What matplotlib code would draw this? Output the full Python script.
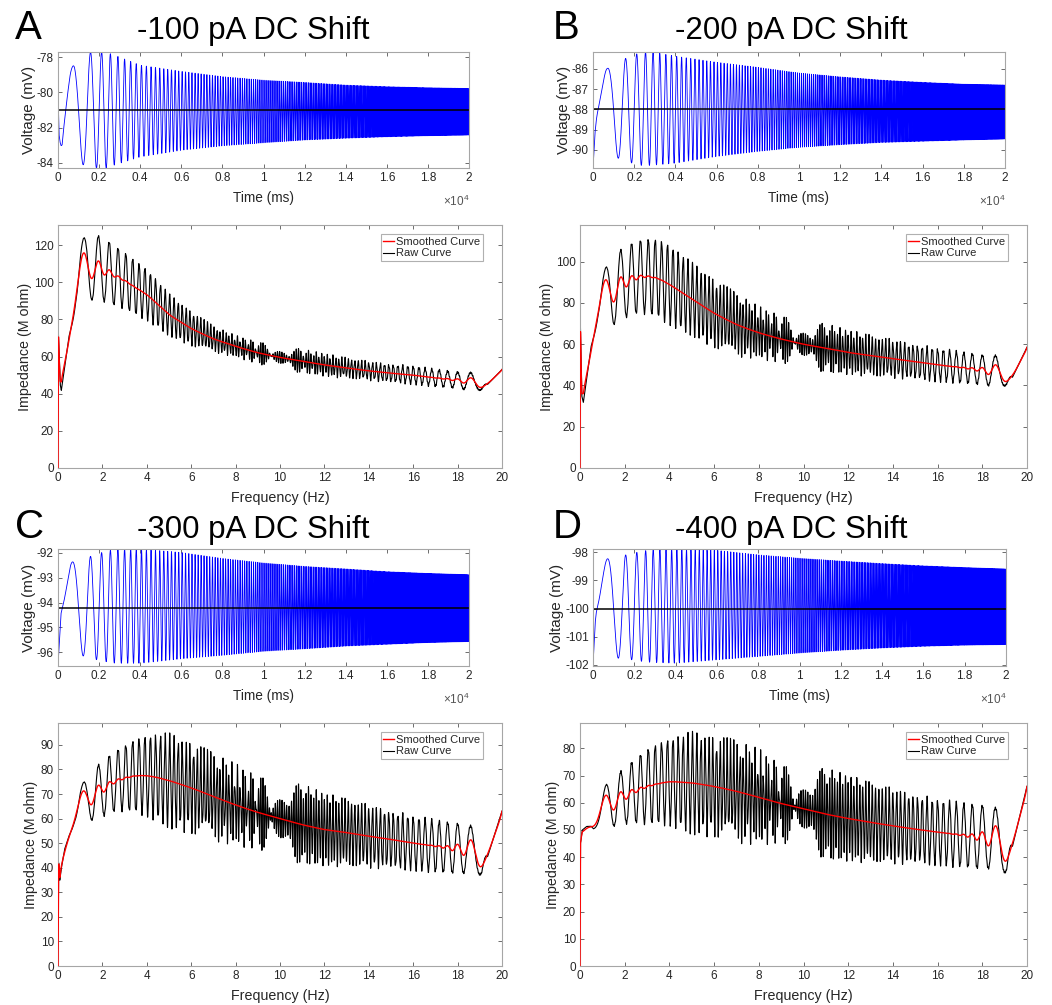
import numpy as np
import matplotlib
matplotlib.use('Agg')
import matplotlib.pyplot as plt

plt.rcParams['font.family'] = ['Liberation Sans', 'DejaVu Sans']
plt.rcParams['mathtext.fontset'] = 'custom'
plt.rcParams['mathtext.rm'] = 'Liberation Sans'
plt.rcParams['axes.unicode_minus'] = False

letters = ['A', 'B', 'C', 'D']
titles = ['-100 pA DC Shift', '-200 pA DC Shift', '-300 pA DC Shift', '-400 pA DC Shift']

# ---- voltage traces (ZAP response, 0 -> 20 Hz over 20 s) ----
vt = [0, 700, 1200, 1600, 1900, 2300, 2800, 4000, 6000, 8000, 10000, 12000, 14000, 16000, 18000, 20000]
v_base = [-81.0, -88.0, -94.21, -100.0]
v_upper = [
    [-78.4, -78.4, -78.0, -77.7, -77.7, -77.7, -77.9, -78.45, -78.8, -79.1, -79.3, -79.43, -79.58, -79.67, -79.73, -79.77],
    [-86.0, -85.98, -85.7, -85.48, -85.35, -85.2, -85.15, -85.38, -85.68, -85.93, -86.21, -86.4, -86.56, -86.67, -86.76, -86.8],
    [-92.4, -92.37, -92.25, -92.14, -92.05, -91.95, -91.85, -91.85, -91.99, -92.23, -92.41, -92.55, -92.65, -92.76, -92.83, -92.88],
    [-98.25, -98.23, -98.15, -98.09, -98.03, -97.98, -97.9, -97.88, -97.93, -98.09, -98.21, -98.31, -98.4, -98.48, -98.54, -98.59],
]
v_lower = [
    [-83.5, -83.8, -84.1, -84.2, -84.3, -84.3, -84.1, -83.66, -83.28, -83.03, -82.86, -82.7, -82.6, -82.52, -82.46, -82.42],
    [-90.2, -90.3, -90.41, -90.55, -90.66, -90.77, -90.77, -90.66, -90.33, -90.08, -89.88, -89.75, -89.64, -89.58, -89.52, -89.47],
    [-96.0, -96.05, -96.14, -96.25, -96.3, -96.37, -96.44, -96.44, -96.26, -96.12, -95.96, -95.86, -95.75, -95.68, -95.61, -95.57],
    [-101.7, -101.72, -101.76, -101.8, -101.82, -101.87, -101.91, -101.94, -101.82, -101.7, -101.58, -101.48, -101.4, -101.34, -101.3, -101.28],
]
# onset transient (mV relative to baseline)
tt = [0, 1, 50, 100, 150, 200, 300, 450, 600, 800]
v_trans = [
    [3.3, 1.0, -1.4, -1.9, -2.2, -2.3, -1.5, -0.8, -0.3, 0],
    [2.4, -2.9, -2.0, -1.2, -0.75, -0.5, -0.3, -0.1, 0, 0],
    [-2.34, -2.3, -1.6, -0.9, -0.35, -0.25, -0.2, -0.1, 0, 0],
    [-2.04, -2.0, -1.3, -0.6, -0.3, -0.2, -0.15, -0.05, 0, 0],
]
v_yticks = [[-84, -82, -80, -78], [-90, -89, -88, -87, -86],
            [-96, -95, -94, -93, -92], [-102, -101, -100, -99, -98]]

# ---- impedance profiles ----
z_trend_f = [
    [0, 0.02, 0.1, 0.15, 0.5, 0.8, 1.0, 1.3, 1.6, 2, 2.5, 3, 3.5, 4, 5, 6, 7, 8, 9, 10, 11, 12, 13, 14, 15, 16, 17, 18, 18.6, 19.1, 19.35, 20],
    [0, 0.02, 0.08, 0.15, 0.5, 0.8, 1.0, 1.3, 1.6, 2, 2.5, 3, 3.5, 4, 5, 6, 7, 8, 9, 10, 11, 12, 13, 14, 15, 16, 17, 18, 18.6, 19.1, 19.35, 20],
    [0, 0.03, 0.08, 0.15, 0.3, 0.5, 0.7, 1.0, 1.3, 1.6, 2, 2.5, 3, 3.5, 4, 4.5, 5, 6, 7, 8, 9, 10, 11, 12, 13, 14, 15, 16, 17, 18, 18.6, 19.1, 19.35, 20],
    [0, 0.02, 0.1, 0.3, 0.6, 0.9, 1.2, 1.5, 2, 2.5, 3, 3.5, 4, 5, 6, 7, 8, 9, 10, 11, 12, 13, 14, 15, 16, 17, 18, 18.6, 19.1, 19.35, 20],
]
z_trend = [
    [0, 72, 45, 42, 72, 95, 104, 110, 108, 107, 104, 101, 97, 93.5, 82.5, 75, 69.5, 65.5, 62, 59.5, 57.5, 55.5, 53.8, 52.3, 51, 50, 48.5, 47.3, 46.5, 46, 45, 53],
    [0, 68, 35, 32, 60, 77, 84, 86, 87, 90, 92.5, 93, 92, 89, 82, 75, 69.5, 65.5, 62.5, 60, 58, 56, 54.5, 53, 51.5, 50, 48.8, 47.5, 47, 45.5, 44, 58.5],
    [0, 42, 35, 40, 48, 54, 60, 67, 68, 70, 72, 75, 76.5, 77.5, 77.5, 76.7, 75.5, 72.5, 69, 65.5, 62.5, 60, 57.5, 55.5, 54.3, 52.8, 51.5, 50, 48.8, 47.8, 47.5, 46, 44.5, 63],
    [0, 45, 50, 51.5, 52, 56, 60, 60.5, 62.5, 64.5, 66, 67, 67.8, 67.3, 66, 64.2, 62, 59.7, 57.8, 55.8, 54.2, 52.8, 51.5, 50.3, 49.2, 48.2, 47.3, 47, 46, 44, 66],
]
env_f = [0, 0.5, 1, 1.5, 2, 3, 4, 5, 6, 7, 8, 9, 10, 11, 12, 14, 16, 18, 18.6, 19.1, 19.35, 20]
# ripple half-amplitude from the low edge and the high edge of the sweep
env_low = [
    [0, 1, 16, 18, 17, 15, 13.5, 10.5, 8.5, 6, 4.5, 3.5, 3, 2, 1.5, 1, 0.8, 0.5, 0.4, 0.3, 0, 0],
    [0, 1, 10, 17, 17, 18, 19, 16.5, 15, 13, 10, 7, 5, 3, 2, 1.5, 1, 0.5, 0.4, 0.3, 0, 0],
    [0, 1, 6, 10, 11, 13, 16, 17.5, 16, 14, 12, 8, 6, 3, 2, 1.5, 1, 0.5, 0.4, 0.3, 0, 0],
    [0, 0.5, 6, 9, 10, 13.5, 15.5, 17, 16, 15, 13, 8, 6, 3, 2, 1.5, 1, 0.5, 0.4, 0.3, 0, 0],
]
env_high = [
    [0, 0, 0, 0.3, 0.5, 0.7, 0.8, 1, 1, 1.2, 1.5, 2.5, 3.5, 4.5, 4.8, 4.3, 4.5, 4.2, 4.8, 4, 0, 0],
    [0, 0, 0, 0.3, 0.5, 0.7, 1, 1.5, 2, 2.5, 3, 4.5, 6, 9, 9, 8, 7.5, 7, 7.5, 5.5, 0, 0],
    [0, 0, 0, 0.3, 0.5, 0.7, 1, 2, 3, 4, 5, 7, 9, 13.5, 13, 11.5, 10.5, 10, 9.5, 9, 0, 0],
    [0, 0, 0, 0.3, 0.5, 0.7, 1, 2, 3, 4, 5, 6.5, 8, 14, 14, 12.5, 11.5, 11.5, 11, 12, 0, 0],
]
z_ylim = [130.8, 117.8, 98.9, 89.3]
z_yticks = [np.arange(0, 121, 20), np.arange(0, 101, 20), np.arange(0, 91, 10), np.arange(0, 81, 10)]

# axes boxes in pixels: left, right, top, bottom
W, H = 1052, 1005
v_box = [(58, 469, 52, 168), (593, 1005, 52, 168), (58, 469, 549, 666), (593, 1006, 549, 666)]
z_box = [(58, 502, 225, 468), (580, 1027, 225, 468), (58, 502, 723, 966), (580, 1027, 723, 966)]
label_xy = [(15, 39), (553, 39), (15, 538), (553, 538)]
title_xy = [(253, 39), (791, 39), (253, 538), (791, 538)]

spine_c = '#a6a6a6'
text_c = '#262626'


def make_ax(fig, box):
    l, r, t, b = box
    ax = fig.add_axes([l / W, 1 - b / H, (r - l) / W, (b - t) / H])
    for s in ax.spines.values():
        s.set_color(spine_c)
        s.set_linewidth(0.8)
    ax.tick_params(direction='in', top=True, right=True, length=3, width=0.6,
                   color='#555555', labelcolor=text_c, labelsize=8.5, pad=3)
    return ax


def smooth(y, df, sigma):
    # gaussian smoothing; falls back to the raw values right at the ends
    x = np.arange(-int(3 * sigma / df), int(3 * sigma / df) + 1) * df
    g = np.exp(-0.5 * (x / sigma) ** 2)
    num = np.convolve(y, g, mode='same')
    den = np.convolve(np.ones_like(y), g, mode='same')
    s = num / den
    i = np.arange(len(y))
    d = np.minimum(i, len(y) - 1 - i) * df
    w = np.clip(d / (2 * sigma), 0, 1)
    return w * s + (1 - w) * y


fig = plt.figure(figsize=(W / 100, H / 100), dpi=100)

t = np.arange(0, 20001, 1.0)
sweep = np.sin(np.pi * (t / 1000.0) ** 2)
f = np.linspace(0, 20, 10001)
rip_low = np.cos(np.pi * f ** 2 + 0.68 * np.pi)
rip_high = np.cos(np.pi * (20 - f) ** 2)

for k in range(4):
    # voltage
    ax = make_ax(fig, v_box[k])
    up = np.interp(t, vt, v_upper[k]) - v_base[k]
    lo = v_base[k] - np.interp(t, vt, v_lower[k])
    v = v_base[k] + np.where(sweep > 0, up, lo) * sweep + np.interp(t, tt, v_trans[k])
    ax.plot(t, v, color='#0000ff', lw=0.6)
    ax.axhline(v_base[k], color='black', lw=1.1)
    ax.set_xlim(0, 20000)
    ax.set_ylim(v.min(), v.max())
    ax.set_xticks(np.arange(0, 20001, 2000))
    ax.set_xticklabels([f'{x / 1e4:g}' for x in np.arange(0, 20001, 2000)])
    ax.set_yticks(v_yticks[k])
    ax.set_xlabel('Time (ms)', fontsize=9.8, color=text_c, labelpad=5)
    ax.set_ylabel('Voltage (mV)', fontsize=11, color=text_c, labelpad=0.5)
    ax.text(1.0, -0.22, r'$\times10^{4}$', transform=ax.transAxes, ha='right', va='top',
            fontsize=8.5, color='#555555')

    # impedance
    ax2 = make_ax(fig, z_box[k])
    trend = np.interp(f, z_trend_f[k], z_trend[k])
    raw = trend + np.interp(f, env_f, env_low[k]) * rip_low + np.interp(f, env_f, env_high[k]) * rip_high
    red = smooth(raw, f[1] - f[0], 0.15)
    ax2.plot(f, red, color='#ff0000', lw=1.0, label='Smoothed Curve', zorder=3)
    ax2.plot(f, raw, color='black', lw=0.8, label='Raw Curve', zorder=2)
    ax2.set_xlim(0, 20)
    ax2.set_ylim(0, z_ylim[k])
    ax2.set_xticks(np.arange(0, 21, 2))
    ax2.set_yticks(z_yticks[k])
    ax2.set_xlabel('Frequency (Hz)', fontsize=10.3, color=text_c, labelpad=5)
    ax2.set_ylabel('Impedance (M ohm)', fontsize=10.3, color=text_c, labelpad=1.5)
    l, r, tp, b = z_box[k]
    leg = ax2.legend(loc='upper right', bbox_to_anchor=(1 - 19 / (r - l), 1 - 9 / (b - tp)),
                     borderaxespad=0, fontsize=8, handlelength=1.0, handletextpad=0.15,
                     borderpad=0.25, labelspacing=0.15, fancybox=False, framealpha=1)
    leg.get_frame().set_edgecolor('#b0b0b0')
    leg.get_frame().set_linewidth(0.8)
    for txt in leg.get_texts():
        txt.set_color(text_c)

    lx, ly = label_xy[k]
    fig.text(lx / W, 1 - ly / H, letters[k], fontsize=29, ha='left', va='baseline')
    tx, ty = title_xy[k]
    fig.text(tx / W, 1 - ty / H, titles[k], fontsize=22.5, ha='center', va='baseline')

fig.savefig('out.png', dpi=100)
